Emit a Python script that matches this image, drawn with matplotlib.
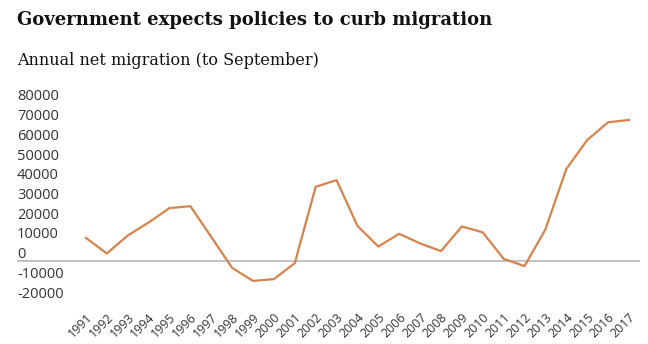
import matplotlib
matplotlib.use("Agg")
import matplotlib.pyplot as plt
import matplotlib.transforms as mtransforms

years = list(range(1991, 2018))
net_migration = [11800, 3900, 13000, 19600, 26900, 27900, 12300, -3400, -10000, -9100,
                 -1000, 37700, 41100, 17900, 7400, 13900, 9000, 5100, 17600, 14600,
                 1200, -2500, 16100, 46700, 61400, 70400, 71600]
y_ticks = [80000, 70000, 60000, 50000, 40000, 30000, 20000, 10000, 0, -10000, -20000]

W, H = 648, 344
fig = plt.figure(figsize=(W / 100, H / 100), dpi=100)

# axes box in pixels: left 17, right 640, top 93.5, bottom 310.5
left, right, top, bottom = 17, 640, 93.5, 310.5
ax = fig.add_axes([left / W, 1 - bottom / H, (right - left) / W, (bottom - top) / H])

ax.axhline(0, color="#bdbdbd", lw=1.3, zorder=1)
ax.plot(years, net_migration, color="#d6834c", lw=1.6, zorder=2)

ax.set_xlim(1987.7, 2017.53)
ax.set_ylim(-25000, 85000)

for s in ax.spines.values():
    s.set_visible(False)

ax.set_yticks(y_ticks)
ax.set_yticklabels([f"{v:d}" for v in y_ticks], fontsize=10.5, family="Open Sans", color="#333333")
ax.tick_params(axis="y", length=0, pad=0)
up = mtransforms.ScaledTranslation(0, 0.085, fig.dpi_scale_trans)
for lab in ax.get_yticklabels():
    lab.set_horizontalalignment("left")
    lab.set_transform(lab.get_transform() + up)

ax.set_xticks(years)
ax.set_xticklabels([str(y) for y in years], rotation=45, ha="right",
                   rotation_mode="anchor", fontsize=9, family="Open Sans", color="#333333")
ax.tick_params(axis="x", length=0, pad=0)

fig.text(17 / W, 1 - 25 / H, "Government expects policies to curb migration",
         fontsize=13, fontweight="bold", family="DejaVu Serif", color="#121212", va="baseline")
fig.text(17 / W, 1 - 65 / H, "Annual net migration (to September)",
         fontsize=11.5, family="DejaVu Serif", color="#121212", va="baseline")

fig.savefig("out.png", dpi=100)
